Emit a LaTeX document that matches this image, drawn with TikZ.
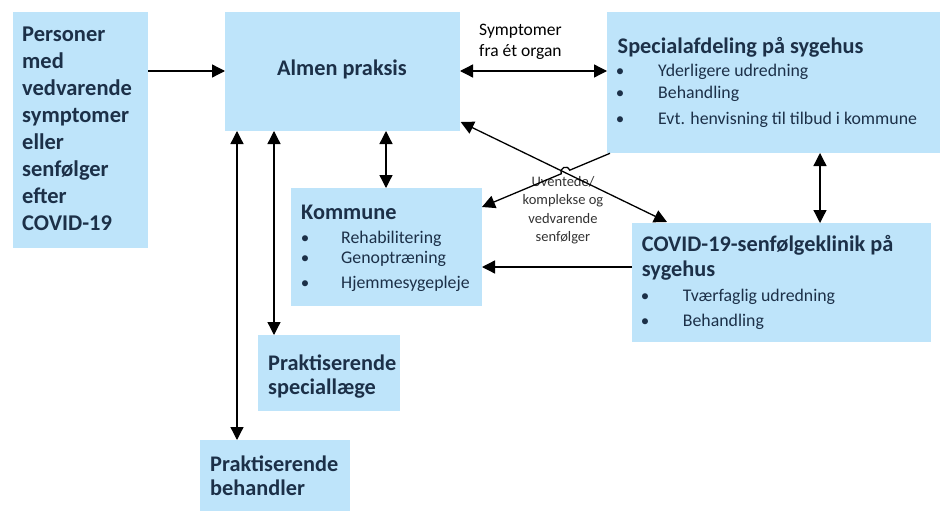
\documentclass[tikz,border=0pt]{standalone}
\usepackage{fontspec}
\setmainfont{Carlito}
\usetikzlibrary{arrows.meta,calc}
\definecolor{boxfill}{RGB}{190,228,250}
\definecolor{txt}{RGB}{28,48,72}
\begin{document}
\begin{tikzpicture}[x=1pt,y=-1pt,
  box/.style={fill=boxfill,draw=none,anchor=north west,inner sep=0pt,outer sep=0pt},
  bigt/.style={anchor=base west,inner sep=0pt,text=txt,font=\fontsize{22.5}{27}\selectfont\bfseries},
  head/.style={anchor=base west,inner sep=0pt,text=txt,font=\fontsize{22.3}{25}\selectfont\bfseries},
  item/.style={anchor=base west,inner sep=0pt,text=txt,font=\fontsize{17.8}{20}\selectfont},
  bul/.style={anchor=base,inner sep=0pt,text=txt,font=\fontsize{17}{20}\selectfont},
  conn/.style={line width=1.3pt,black},
  tipd/.style={-{Triangle[length=13pt,width=13pt]}},
  tipb/.style={{Triangle[length=13pt,width=13pt]}-{Triangle[length=13pt,width=13pt]}}]
\useasboundingbox[fill=white] (0,0) rectangle (942,511);

% boxes
\node[box,minimum width=135pt,minimum height=236pt] (per) at (13,12) {};
\node[box,minimum width=235pt,minimum height=119pt] (alm) at (225,12) {};
\node[box,minimum width=333pt,minimum height=141pt] (spec) at (607,12) {};
\node[box,minimum width=191pt,minimum height=118pt] (kom) at (291,188) {};
\node[box,minimum width=299pt,minimum height=119pt] (cov) at (632,223) {};
\node[box,minimum width=142pt,minimum height=76pt] (psl) at (258,335) {};
\node[box,minimum width=150pt,minimum height=71pt] (pbh) at (200,440) {};

% texts
\node[bigt] (t1) at (22,41.7) {Personer};
\node[bigt] (t2) at (22,68.6) {med};
\node[bigt] (t3) at (22,95.5) {vedvarende};
\node[bigt] (t4) at (22,122.4) {symptomer};
\node[bigt] (t5) at (22,149.3) {eller};
\node[bigt] (t6) at (22,176.2) {senfølger};
\node[bigt] (t7) at (22,203.1) {efter};
\node[bigt] (t8) at (22,230) {COVID-19};

\node[head] (ta) at (277,76) {Almen praksis};

\node[anchor=base west,inner sep=0pt,font=\fontsize{17.5}{21}\selectfont] (sy1) at (479,35.5) {Symptomer};
\node[anchor=base west,inner sep=0pt,font=\fontsize{17.5}{21}\selectfont] (sy2) at (479,56.7) {fra ét organ};

\node[head] (ts) at (617.5,53.3) {Specialafdeling på sygehus};
\node[bul] (sb1) at (620,76.7) {\textbullet};
\node[item] (si1) at (658,76.7) {Yderligere udredning};
\node[bul] (sb2) at (620,99) {\textbullet};
\node[item] (si2) at (658,99) {Behandling};
\node[bul] (sb3) at (620,124) {\textbullet};
\node[item] (si3) at (658,124) {Evt. henvisning til tilbud i kommune};

\node[head] (tk) at (301,219) {Kommune};
\node[bul] (kb1) at (305,243) {\textbullet};
\node[item] (ki1) at (341,243) {Rehabilitering};
\node[bul] (kb2) at (305,263) {\textbullet};
\node[item] (ki2) at (341,263) {Genoptræning};
\node[bul] (kb3) at (305,288) {\textbullet};
\node[item] (ki3) at (341,288) {Hjemmesygepleje};

\node[head] (tc1) at (641.7,251.7) {COVID-19-senfølgeklinik på};
\node[head] (tc2) at (641.7,276.7) {sygehus};
\node[bul] (cb1) at (645,301.7) {\textbullet};
\node[item] (ci1) at (682.7,301.7) {Tværfaglig udredning};
\node[bul] (cb2) at (645,326.7) {\textbullet};
\node[item] (ci2) at (682.7,326.7) {Behandling};

\node[head] (tp1) at (268,370) {Praktiserende};
\node[head] (tp2) at (268,394) {speciallæge};
\node[head] (tb1) at (210,471.7) {Praktiserende};
\node[head] (tb2) at (210,495) {behandler};

\node[align=center,inner sep=0pt,text=black!80,font=\fontsize{14.5}{18.5}\selectfont] (lab) at (563,210) {Uventede/\\komplekse og\\vedvarende\\senfølger};

% helper coordinates
\coordinate (x386) at (386,0);
\coordinate (x820) at (820,0);
\coordinate (x237) at (237,0);
\coordinate (x274) at (274,0);
\coordinate (y71) at (0,71);
\coordinate (y267) at (0,267);

% connectors
\draw[conn,tipd] (per.east |- y71) -- (alm.west |- y71);
\draw[conn,tipb] (alm.east |- y71) -- (spec.west |- y71);
\draw[conn,tipb] (alm.south -| x386) -- (kom.north -| x386);
\draw[conn,tipb] (spec.south -| x820) -- (cov.north -| x820);
\draw[conn,tipd] (cov.west |- y267) -- (kom.east |- y267);
\draw[conn,tipb] (alm.south -| x274) -- (psl.north -| x274);
\draw[conn,tipb] (alm.south -| x237) -- (pbh.north -| x237);
\draw[conn,tipb] ($(alm.south east)+(0.7,-9)$) -- ($(cov.north west)+(35,-1)$);
\coordinate (s0) at ($(spec.south west)+(3,0.3)$);
\coordinate (k0) at ($(kom.north east)+(0,19)$);
\coordinate (h1) at ($(s0)!0.315!(k0)$);
\coordinate (h2) at ($(s0)!0.38!(k0)$);
\draw[conn,tipd] (s0) -- (h1) .. controls +(-2.3,-6) and +(-2.3,-6) .. (h2) -- (k0);
\end{tikzpicture}
\end{document}
